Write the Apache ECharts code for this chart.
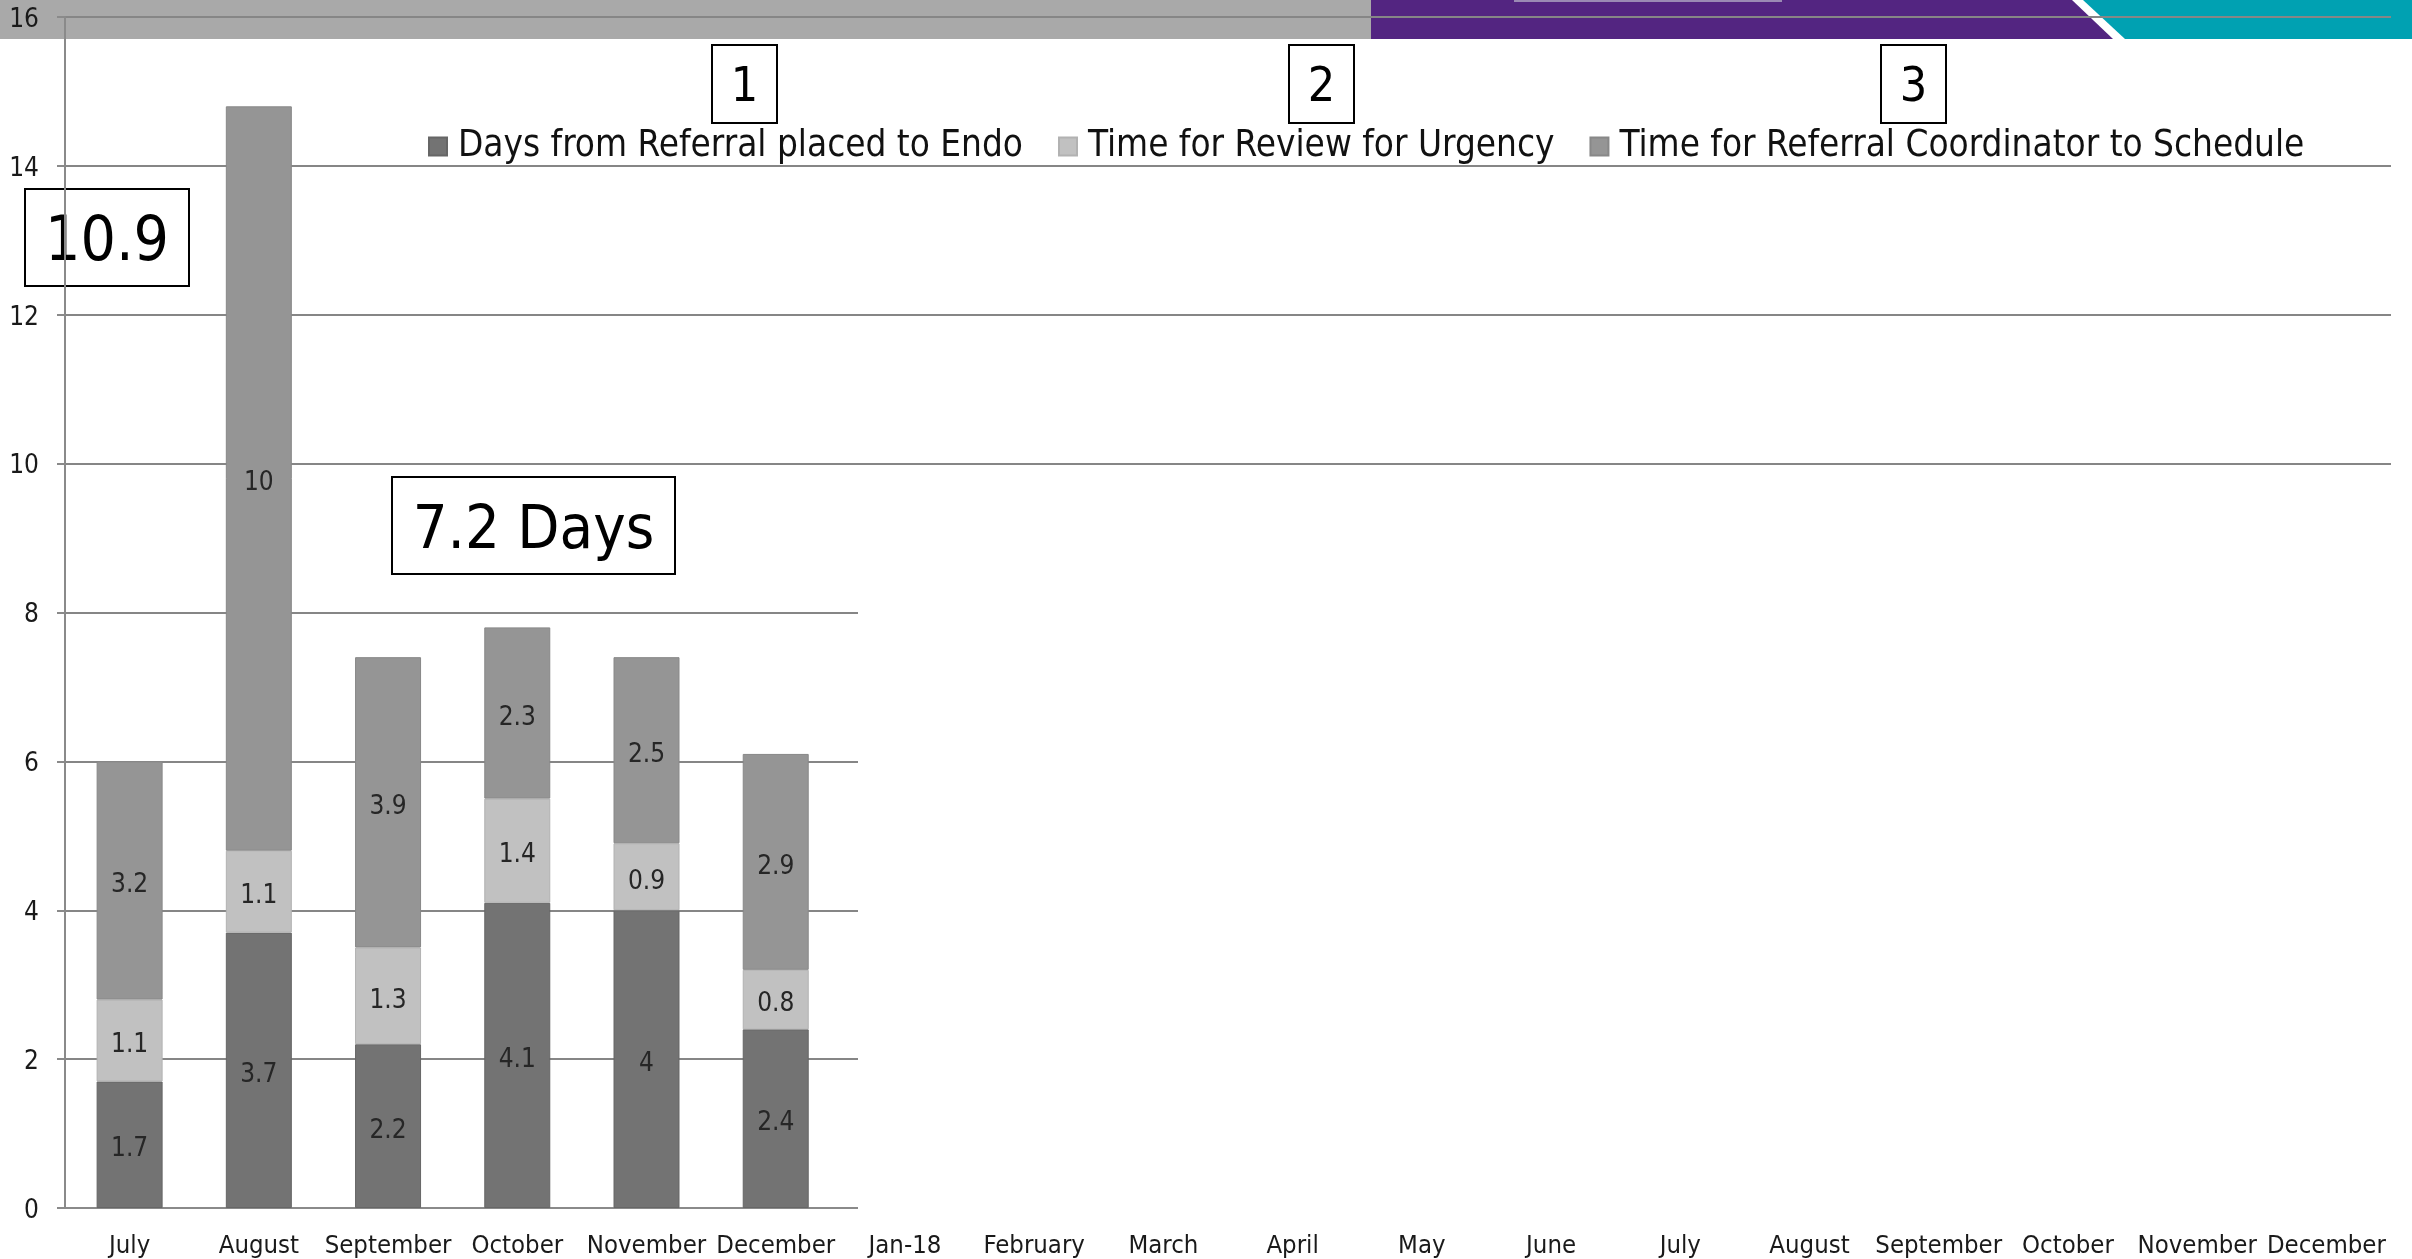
<!DOCTYPE html>
<html>
<head>
<meta charset="utf-8">
<script src="https://cdn.jsdelivr.net/npm/echarts@6/dist/echarts.min.js"></script>
<style>
  html, body { margin: 0; padding: 0; background: #ffffff; }
  #chart { width: 2412px; height: 1259px; }
</style>
</head>
<body>
<div id="chart"></div>
<script>
// Month labels along the bottom axis
const months = ['July', 'August', 'September', 'October', 'November', 'December',
  'Jan-18', 'February', 'March', 'April', 'May', 'June',
  'July', 'August', 'September', 'October', 'November', 'December'];

// Stacked components (days), July to December
const endoDays = [1.7, 3.7, 2.2, 4.1, 4, 2.4];
const urgencyDays = [1.1, 1.1, 1.3, 1.4, 0.9, 0.8];
const scheduleDays = [3.2, 10, 3.9, 2.3, 2.5, 2.9];

const seriesNames = ['Days from Referral placed to Endo', 'Time for Review for Urgency', 'Time for Referral Coordinator to Schedule'];

// Value axis range
const yMin = 0, yMax = 16, yStep = 2;

// Callout texts
const stepNumbers = ['1', '2', '3'];
const baselineAverage = '10.9';
const periodAverage = '7.2 Days';

const FONT = "'DejaVu Sans Condensed', 'DejaVu Sans', sans-serif";

function pad(values) {
  return months.map((m, i) => (i < values.length ? values[i] : null));
}

const chart = echarts.init(document.getElementById('chart'), null, { renderer: 'canvas' });

function boxed(x, y, w, h, text, size, dy) {
  return {
    type: 'group', x: x, y: y, z: 20,
    children: [
      { type: 'rect', shape: { x: 0, y: 0, width: w, height: h },
        style: { fill: null, stroke: '#000', lineWidth: 2 } },
      { type: 'text', x: w / 2, y: h / 2 + dy,
        style: { text: text, fontFamily: FONT, fontSize: size, fill: '#000',
          align: 'center', verticalAlign: 'middle' } }
    ]
  };
}

const bar = (name, values, color, border) => ({
  name: name,
  type: 'bar',
  stack: 'total',
  barWidth: 66,
  data: pad(values),
  itemStyle: { color: color, borderColor: border, borderWidth: 1 },
  label: {
    show: true, position: 'inside', offset: [0, 5],
    fontFamily: FONT, fontSize: 26, color: '#262626'
  },
  emphasis: { disabled: true }
});

chart.setOption({
  backgroundColor: '#ffffff',
  animation: false,
  grid: { left: 65, right: 21, top: 17, bottom: 51, containLabel: false },
  legend: {
    data: seriesNames,
    left: 428, top: 128, padding: 0,
    itemWidth: 18, itemHeight: 18, itemGap: 35,
    icon: 'rect',
    textStyle: { fontFamily: FONT, fontSize: 36.6, color: '#111', padding: [0, 0, 0, 6], lineHeight: 36 }
  },
  xAxis: {
    type: 'category',
    data: months,
    axisLine: { lineStyle: { color: '#8a8a8a', width: 2 } },
    axisTick: { show: false },
    axisLabel: { fontFamily: FONT, fontSize: 25.5, color: '#1a1a1a', margin: 25, interval: 0 }
  },
  yAxis: {
    type: 'value',
    min: yMin, max: yMax, interval: yStep,
    axisLine: { show: true, lineStyle: { color: '#8a8a8a', width: 2 } },
    axisTick: { show: true, length: 8, lineStyle: { color: '#8a8a8a', width: 2 } },
    axisLabel: {
      margin: 26,
      formatter: v => '{t|' + v + '}',
      rich: { t: { fontFamily: FONT, fontSize: 26, color: '#1a1a1a', padding: [6, 0, 0, 0] } }
    },
    splitLine: { lineStyle: { color: '#868686', width: 2 } }
  },
  series: [
    bar(seriesNames[0], endoDays, '#737373', '#666666'),
    bar(seriesNames[1], urgencyDays, '#c1c1c1', '#b2b2b2'),
    bar(seriesNames[2], scheduleDays, '#959595', '#888888')
  ],
  graphic: [
    // header band
    { type: 'rect', z: -1, shape: { x: 0, y: 0, width: 1371, height: 39 }, style: { fill: '#a9a9a9' } },
    { type: 'polygon', z: -1, shape: { points: [[1371, 0], [2072, 0], [2113, 39], [1371, 39]] }, style: { fill: '#532581' } },
    { type: 'rect', z: -1, shape: { x: 1514, y: 0, width: 268, height: 2 }, style: { fill: '#9a8ab4' } },
    { type: 'polygon', z: -1, shape: { points: [[2083, 0], [2412, 0], [2412, 39], [2125, 39]] }, style: { fill: '#00a1b2' } },
    // blank panel over the later months
    { type: 'rect', z: 10, shape: { x: 858, y: 540, width: 1554, height: 682 }, style: { fill: '#ffffff' } },
    // step markers above the legend
    boxed(712, 45, 65, 78, stepNumbers[0], 48, 5),
    boxed(1289, 45, 65, 78, stepNumbers[1], 48, 5),
    boxed(1881, 45, 65, 78, stepNumbers[2], 48, 5),
    // averages
    boxed(25, 189, 164, 97, baselineAverage, 62, 6),
    boxed(392, 477, 283, 97, periodAverage, 61, 7)
  ]
});
</script>
</body>
</html>
